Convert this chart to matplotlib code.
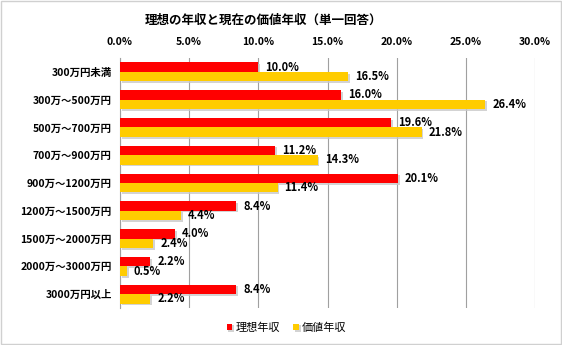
import numpy as np
import matplotlib
matplotlib.use("Agg")
import matplotlib.pyplot as plt
import matplotlib.patheffects as pe
from matplotlib.ticker import FuncFormatter

plt.rcParams['font.family'] = ['Noto Sans CJK JP', 'DejaVu Sans']

categories = ['300万円未満', '300万～500万円', '500万～700万円', '700万～900万円',
              '900万～1200万円', '1200万～1500万円', '1500万～2000万円',
              '2000万～3000万円', '3000万円以上']
ideal = [10.0, 16.0, 19.6, 11.2, 20.1, 8.4, 4.0, 2.2, 8.4]
value = [16.5, 26.4, 21.8, 14.3, 11.4, 4.4, 2.4, 0.5, 2.2]

fig = plt.figure(figsize=(5.62, 3.45), dpi=100)
fig.patches.append(plt.Rectangle((0.002, 0.003), 0.996, 0.994, transform=fig.transFigure,
                                 fill=False, edgecolor='#d0d0d0', linewidth=1))
ax = fig.add_axes([0.2135, 0.107, 0.7385, 0.725])

y = np.arange(len(categories))
h = 0.34
shadow = [pe.SimplePatchShadow(offset=(1.2, -1.2), shadow_rgbFace='#c8c8c8', alpha=0.8), pe.Normal()]
b1 = ax.barh(y - h / 2, ideal, height=h, color='#ff0000', label='理想年収', path_effects=shadow, zorder=3)
b2 = ax.barh(y + h / 2, value, height=h, color='#ffcc00', label='価値年収', path_effects=shadow, zorder=3)

for bars, vals in ((b1, ideal), (b2, value)):
    for bar, v in zip(bars, vals):
        ax.text(v + 0.5, bar.get_y() + bar.get_height() / 2, f'{v:.1f}%', va='center', ha='left',
                fontsize=8, fontweight='bold', zorder=4)

ax.set_xlim(0, 30)
ax.set_ylim(len(categories) - 0.5, -0.5)
ax.set_xticks(np.arange(0, 31, 5))
ax.xaxis.set_major_formatter(FuncFormatter(lambda v, p: f'{v:.1f}%'))
ax.xaxis.tick_top()
ax.tick_params(axis='x', length=0, labelsize=7.5, pad=8)
ax.tick_params(axis='y', length=0, labelsize=7.5, pad=6)
for lab in ax.get_xticklabels() + ax.get_yticklabels():
    lab.set_fontweight('bold')
ax.set_yticks(y)
ax.set_yticklabels(categories)
ax.grid(axis='x', color='#a0a0a0', linewidth=0.8, zorder=0)
for s in ['top', 'right', 'bottom']:
    ax.spines[s].set_visible(False)
ax.spines['left'].set_color('#a0a0a0')

fig.text(0.468, 0.94, '理想の年収と現在の価値年収（単一回答）', ha='center', va='center',
         fontsize=9, fontweight='bold')
fig.legend(handles=[b1, b2], loc='center', bbox_to_anchor=(0.51, 0.05), ncol=2, frameon=False,
           fontsize=8, handlelength=0.5, handleheight=0.5, columnspacing=1.2, handletextpad=0.3)

fig.savefig('out.png', dpi=100)
